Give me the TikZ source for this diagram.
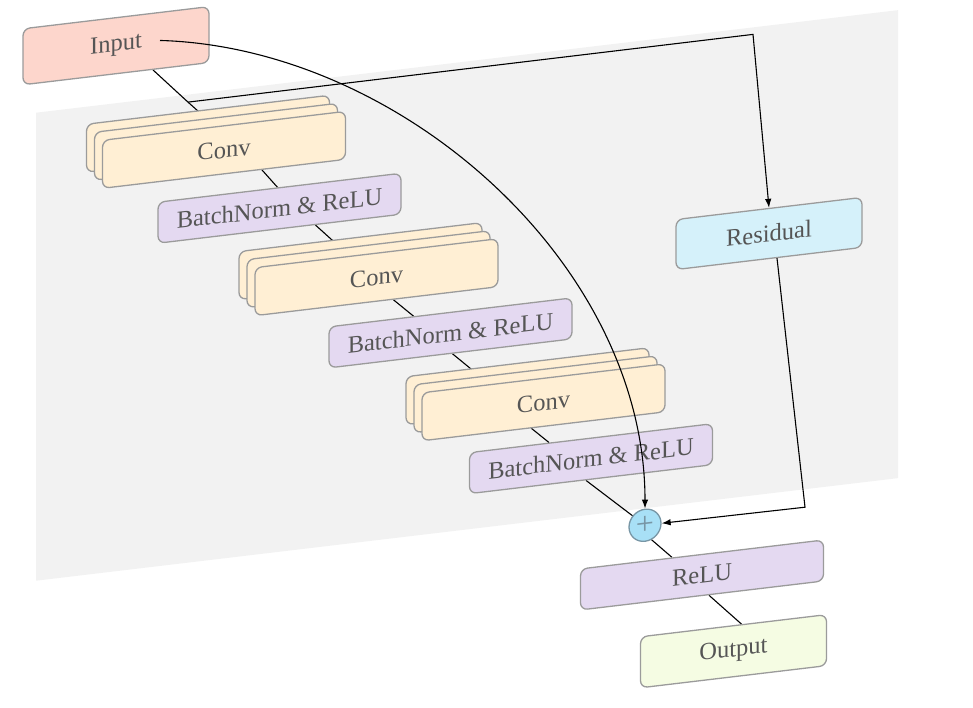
\documentclass[tikz,border=0pt]{standalone}
\usepackage{fontspec}
\setmainfont{Liberation Serif}
\usetikzlibrary{arrows.meta}

\definecolor{panelgray}{RGB}{242,242,242}
\definecolor{edgegray}{RGB}{155,155,155}
\definecolor{labelgray}{RGB}{85,85,85}
\definecolor{inputfill}{RGB}{253,214,204}
\definecolor{convfill}{RGB}{255,239,212}
\definecolor{normfill}{RGB}{228,217,241}
\definecolor{residfill}{RGB}{213,241,250}
\definecolor{outfill}{RGB}{245,252,227}
\definecolor{plusfill}{RGB}{168,224,246}
\definecolor{plusedge}{RGB}{120,150,165}

\pgfdeclarelayer{panel}
\pgfdeclarelayer{links}
\pgfsetlayers{panel,links,main}

\tikzset{
  box/.style={draw=edgegray, line width=1.3pt, rounded corners=7pt, text=labelgray,
    font=\fontsize{24.5}{28}\selectfont, inner sep=0pt},
  convbox/.style={box, fill=convfill, minimum width=243pt, minimum height=48pt},
  normbox/.style={box, fill=normfill, minimum width=243pt, minimum height=41pt},
  iobox/.style={box, minimum width=186pt, minimum height=51pt},
  link/.style={line width=1.1pt, black},
  arrowlink/.style={link, -{Latex[length=9pt,width=6.5pt]}}
}

\begin{document}
\begin{tikzpicture}[x=1pt,y=1pt]
  \useasboundingbox (0,0) rectangle (973,-708);
  \begin{scope}[yslant=0.119, transform shape]
    \begin{pgfonlayer}{panel}
      \fill[panelgray] (36,-117) rectangle (898,-585);
    \end{pgfonlayer}

    \node[iobox, fill=inputfill, minimum height=56pt] (input) at (116,-59.5) {Input};

    % first block
    \node[convbox] (convAc) at (208,-158.5) {};
    \node[convbox] (convAb) at (216,-167.5) {};
    \node[convbox] (convA) at (224,-176.5) {Conv};
    \node[normbox] (bnA) at (279.5,-241.5) {BatchNorm \& ReLU};

    % second block
    \node[convbox] (convBc) at (360.5,-304) {};
    \node[convbox] (convBb) at (368.5,-313) {};
    \node[convbox] (convB) at (376.5,-322) {Conv};
    \node[normbox] (bnB) at (450.5,-386.5) {BatchNorm \& ReLU};

    % third block
    \node[convbox] (convCc) at (527.5,-449) {};
    \node[convbox] (convCb) at (535.5,-458) {};
    \node[convbox] (convC) at (543.5,-467) {Conv};
    \node[normbox] (bnC) at (591,-529) {BatchNorm \& ReLU};

    \node[circle, draw=plusedge, line width=1.3pt, fill=plusfill, minimum size=32pt,
      inner sep=0pt, text=plusedge, font=\fontsize{32}{32}\selectfont] (plus) at (645,-602) {+};
    \node[normbox] (relu) at (702,-658.5) {ReLU};
    \node[iobox, fill=outfill] (output) at (733.5,-738.5) {Output};

    \node[iobox, fill=residfill, minimum height=50pt] (residual) at (769,-325) {Residual};

    \coordinate (split) at (188,-124.5);
    \coordinate (bendA) at (753,-124);
    \coordinate (bendB) at (805,-603);

    \begin{pgfonlayer}{links}
      \draw[link] ([xshift=37]input.south) -- (split) -- ([xshift=-9]convA.north);
      \draw[link] ([xshift=38]convA.south) -- ([xshift=-2]bnA.north);
      \draw[link] ([xshift=36]bnA.south) -- ([xshift=-27]convB.north);
      \draw[link] ([xshift=17]convB.south) -- ([xshift=-37]bnB.north);
      \draw[link] ([xshift=2]bnB.south) -- ([xshift=-54]convC.north);
      \draw[link] ([xshift=-12]convC.south) -- ([xshift=-42]bnC.north);
      \draw[link] ([xshift=-5]bnC.south) -- (plus);
      \draw[link] ([xshift=-9]plus.center) -- ([xshift=-30]relu.north);
      \draw[link] ([xshift=7]relu.south) -- ([xshift=8]output.north);
    \end{pgfonlayer}

    % shortcut
    \draw[arrowlink] (split) -- (bendA) -- (residual.north);
    \draw[arrowlink] ([xshift=8]residual.south) -- (bendB) -- (plus.east);
    \draw[arrowlink] ([xshift=44]input.center) .. controls (400,-95) and (645,-340) .. (plus.north);
  \end{scope}
\end{tikzpicture}
\end{document}
